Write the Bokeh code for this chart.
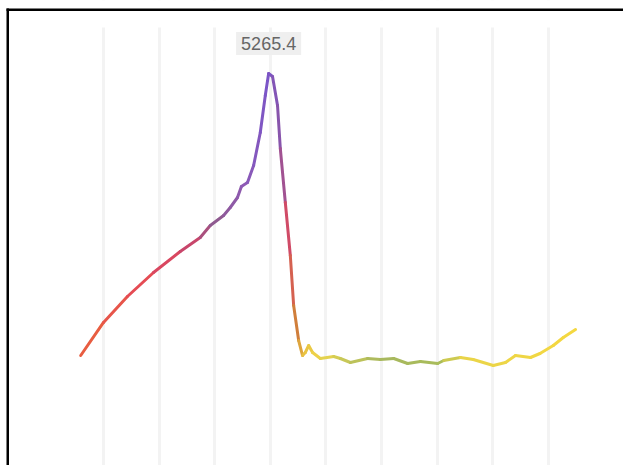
from bokeh.plotting import figure
from bokeh.models import Range1d, FixedTicker, Label, BoxAnnotation
from bokeh.embed import file_html
from bokeh.resources import INLINE

# ---- data ----
days = [5.9, 10.0, 14.3, 19.0, 23.8, 27.4, 29.2, 31.6, 32.8, 34.1, 34.8, 35.9,
        37.0, 38.2, 39.1, 39.7, 40.4, 41.3, 41.8, 42.7, 43.6, 44.2, 45.1, 45.8,
        46.3, 46.9, 47.6, 49.0, 51.4, 52.6, 54.4, 57.5, 59.8, 62.2, 64.7, 67.0,
        70.1, 71.2, 74.2, 76.5, 80.1, 82.3, 84.1, 86.8, 88.5, 90.9, 92.7, 94.9]
values = [1629.0, 2055.0, 2390.0, 2699.3, 2970.0, 3150.6, 3305.4, 3434.3, 3537.5,
          3666.4, 3808.3, 3859.8, 4079.1, 4504.6, 4981.7, 5265.4, 5226.7, 4852.8,
          4298.3, 3601.9, 2918.5, 2273.8, 1822.4, 1629.0, 1667.7, 1758.0, 1667.7,
          1590.3, 1616.1, 1590.3, 1538.7, 1590.3, 1577.4, 1590.3, 1525.8, 1551.6,
          1525.8, 1564.5, 1603.2, 1577.4, 1500.1, 1538.7, 1629.0, 1603.2, 1654.8,
          1758.0, 1861.1, 1964.3]
grid_ticks = [10, 20, 30, 40, 50, 60, 70, 80, 90]

# colour stops along the x dimension
stop_pos = [5.9, 18.6, 26.5, 30.1, 35.5, 39.7, 41.8, 43.3, 44.7, 46.0, 49.0,
            53.5, 59.8, 70.6, 74.2, 94.9]
stop_col = ["#e8613c", "#e54858", "#c4466e", "#8f5a8e", "#8e5ab5", "#7a55c8",
            "#8a55a8", "#d84a60", "#d0803a", "#e8c040", "#eed64a", "#c8c858",
            "#a8b85e", "#a8bc5a", "#e8d44a", "#f5d840"]


def hex2rgb(h):
    h = h.lstrip("#")
    return [int(h[i:i + 2], 16) for i in (0, 2, 4)]


def colour_at(x):
    if x <= stop_pos[0]:
        return stop_col[0]
    for i in range(len(stop_pos) - 1):
        a, b = stop_pos[i], stop_pos[i + 1]
        if a <= x <= b:
            t = (x - a) / (b - a)
            c0, c1 = hex2rgb(stop_col[i]), hex2rgb(stop_col[i + 1])
            c = [round(c0[k] + (c1[k] - c0[k]) * t) for k in range(3)]
            return "#%02x%02x%02x" % tuple(c)
    return stop_col[-1]


x0 = days[:-1]
x1 = days[1:]
y0 = values[:-1]
y1 = values[1:]
seg_colors = [colour_at((a + b) / 2) for a, b in zip(x0, x1)]

p = figure(width=623, height=465, output_backend="svg", toolbar_location=None,
           x_range=Range1d(-8.525, 103.525), y_range=Range1d(210.6, 6206.7),
           min_border_left=0, min_border_right=0, min_border_top=0,
           min_border_bottom=0, x_axis_location=None, y_axis_location=None)
p.outline_line_color = None
p.background_fill_color = "white"
p.border_fill_color = "white"

p.xgrid.ticker = FixedTicker(ticks=grid_ticks)
p.xgrid.grid_line_color = "#f3f3f3"
p.xgrid.grid_line_width = 3
p.ygrid.grid_line_color = None

p.segment(x0=x0, y0=y0, x1=x1, y1=y1, line_color=seg_colors, line_width=3,
          line_cap="round")

# white band above the grid area, then the black frame (left and top)
mask = BoxAnnotation(left=0, right=623, top=0, bottom=27,
                     left_units="canvas", right_units="canvas",
                     top_units="canvas", bottom_units="canvas",
                     fill_color="white", fill_alpha=1.0, line_color=None)
top_bar = BoxAnnotation(left=6, right=623, top=8, bottom=10.5,
                        left_units="canvas", right_units="canvas",
                        top_units="canvas", bottom_units="canvas",
                        fill_color="black", fill_alpha=1.0, line_color=None)
left_bar = BoxAnnotation(left=6, right=8.5, top=8, bottom=465,
                         left_units="canvas", right_units="canvas",
                         top_units="canvas", bottom_units="canvas",
                         fill_color="black", fill_alpha=1.0, line_color=None)
for b in (mask, top_bar, left_bar):
    p.add_layout(b)

peak_i = values.index(max(values))
lbl = Label(x=days[peak_i], y=values[peak_i], text=f"{values[peak_i]:.1f}",
            y_offset=30, text_align="center", text_baseline="middle",
            text_font="Liberation Sans", text_font_size="18px",
            text_color="#666666", background_fill_color="#efefef",
            padding=5)
p.add_layout(lbl)

open("out.html", "w").write(file_html(p, INLINE))
